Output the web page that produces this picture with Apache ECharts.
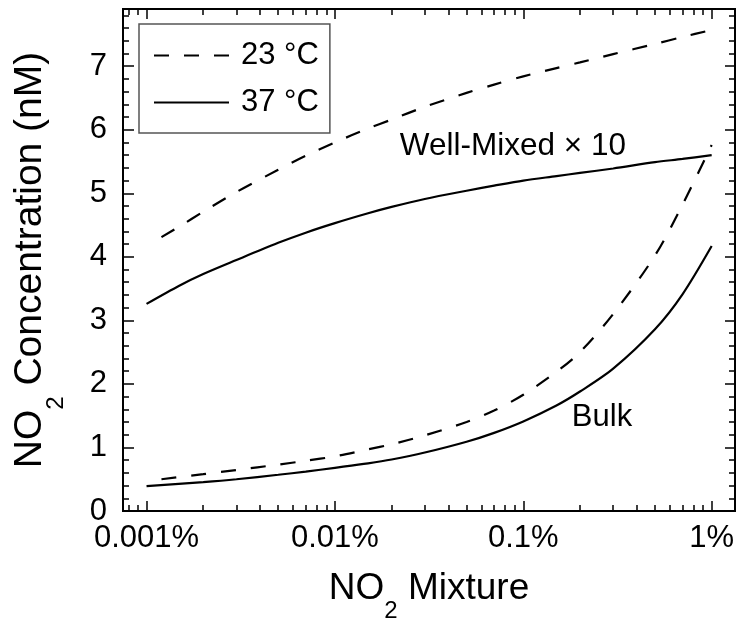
<!DOCTYPE html>
<html>
<head>
<meta charset="utf-8">
<script src="https://cdn.jsdelivr.net/npm/echarts@6/dist/echarts.min.js"></script>
<style>
html,body{margin:0;padding:0;background:#fff;}
#chart{width:744px;height:621px;}
</style>
</head>
<body>
<div id="chart"></div>
<script>
// ---- data (NO2 mixture in %, concentration in nM) ----
const seriesNames = ['23 °C', '37 °C'];

const wellMixed23X = [0.0012, 0.0015, 0.002, 0.003, 0.005, 0.007, 0.01, 0.015, 0.02, 0.03, 0.05, 0.07, 0.1, 0.15, 0.2, 0.3, 0.5, 0.7, 1.0];
const wellMixed23Y = [4.31, 4.48, 4.71, 5.02, 5.37, 5.59, 5.80, 6.02, 6.16, 6.36, 6.58, 6.71, 6.84, 6.97, 7.06, 7.19, 7.35, 7.46, 7.57];

const wellMixed37X = [0.001, 0.0015, 0.002, 0.003, 0.005, 0.007, 0.01, 0.015, 0.02, 0.03, 0.05, 0.07, 0.1, 0.15, 0.2, 0.3, 0.5, 0.7, 1.0];
const wellMixed37Y = [3.26, 3.55, 3.73, 3.95, 4.22, 4.38, 4.53, 4.685, 4.785, 4.91, 5.04, 5.12, 5.20, 5.27, 5.32, 5.39, 5.49, 5.54, 5.60];

const bulk23X = [0.0012, 0.002, 0.003, 0.005, 0.007, 0.01, 0.015, 0.02, 0.03, 0.05, 0.07, 0.1, 0.15, 0.2, 0.3, 0.5, 0.7, 1.0];
const bulk23Y = [0.50, 0.58, 0.645, 0.73, 0.79, 0.86, 0.97, 1.05, 1.19, 1.40, 1.58, 1.83, 2.19, 2.50, 3.10, 4.02, 4.82, 5.76];

const bulk37X = [0.001, 0.002, 0.003, 0.005, 0.007, 0.01, 0.015, 0.02, 0.03, 0.05, 0.07, 0.1, 0.15, 0.2, 0.3, 0.5, 0.7, 1.0];
const bulk37Y = [0.39, 0.455, 0.50, 0.57, 0.62, 0.68, 0.75, 0.81, 0.92, 1.09, 1.23, 1.41, 1.66, 1.88, 2.24, 2.86, 3.41, 4.17];

// ---- ticks ----
const xMajorTicks = [0.001, 0.01, 0.1, 1];
const xTickLabels = ['0.001%', '0.01%', '0.1%', '1%'];
const xMinorTicks = [0.0008, 0.0009,
  0.002, 0.003, 0.004, 0.005, 0.006, 0.007, 0.008, 0.009,
  0.02, 0.03, 0.04, 0.05, 0.06, 0.07, 0.08, 0.09,
  0.2, 0.3, 0.4, 0.5, 0.6, 0.7, 0.8, 0.9];
const yMajorTicks = [0, 1, 2, 3, 4, 5, 6, 7];
const yTickLabels = ['0', '1', '2', '3', '4', '5', '6', '7'];
const yMinorTicks = [0.2, 0.4, 0.6, 0.8, 1.2, 1.4, 1.6, 1.8, 2.2, 2.4, 2.6, 2.8,
  3.2, 3.4, 3.6, 3.8, 4.2, 4.4, 4.6, 4.8, 5.2, 5.4, 5.6, 5.8, 6.2, 6.4, 6.6, 6.8, 7.2, 7.4, 7.6, 7.8];

// ---- annotations ----
const annotTexts = ['Well-Mixed × 10', 'Bulk'];
const annotX = [0.0221, 0.181];
const annotY = [5.74, 1.465];

const FONT = '"Liberation Sans", Arial, Helvetica, sans-serif';
const X_MIN = 0.00075, X_MAX = 1.33, Y_MIN = 0, Y_MAX = 7.9;

function pairs(xs, ys) { return xs.map((x, i) => [x, ys[i]]); }

function xAx(pos, ticks, len, labels, withName) {
  const ax = {
    type: 'log', logBase: 10, min: X_MIN, max: X_MAX, position: pos,
    gridIndex: 0,
    axisLine: { show: true, onZero: false, lineStyle: { color: '#000', width: 2 } },
    axisTick: { show: true, inside: true, length: len, customValues: ticks, lineStyle: { color: '#000', width: 1.5 } },
    axisLabel: labels ? {
      show: true, customValues: xMajorTicks, fontSize: 31, color: '#000', fontFamily: FONT, margin: 12,
      formatter: function (v) {
        const i = xMajorTicks.findIndex(t => Math.abs(Math.log10(t) - Math.log10(v)) < 1e-6);
        return i >= 0 ? xTickLabels[i] : '';
      }
    } : { show: false },
    splitLine: { show: false },
    minorTick: { show: false }
  };
  if (withName) {
    ax.name = '{a|NO}{s|2}{a| Mixture}';
    ax.nameLocation = 'middle';
    ax.nameGap = 44;
    ax.nameTextStyle = {
      fontSize: 37, color: '#000', fontFamily: FONT,
      rich: { a: { fontSize: 37, fontFamily: FONT, color: '#000' }, s: { fontSize: 24, fontFamily: FONT, color: '#000', padding: [44, 0, 0, 0] } }
    };
  }
  return ax;
}

function yAx(pos, ticks, len, labels, withName) {
  const ax = {
    type: 'value', min: Y_MIN, max: Y_MAX, position: pos,
    gridIndex: 0,
    axisLine: { show: true, onZero: false, lineStyle: { color: '#000', width: 2 } },
    axisTick: { show: true, inside: true, length: len, customValues: ticks, lineStyle: { color: '#000', width: 1.5 } },
    axisLabel: labels ? {
      show: true, customValues: yMajorTicks, fontSize: 31, color: '#000', fontFamily: FONT, margin: 16,
      formatter: function (v) { const i = yMajorTicks.indexOf(Math.round(v)); return i >= 0 ? yTickLabels[i] : ''; }
    } : { show: false },
    splitLine: { show: false },
    minorTick: { show: false }
  };
  if (withName) {
    ax.name = '{a|NO}{s|2}{a| Concentration (nM)}';
    ax.nameLocation = 'middle';
    ax.nameGap = 54.5;
    ax.nameRotate = 90;
    ax.nameTextStyle = {
      fontSize: 39, color: '#000', fontFamily: FONT,
      rich: { a: { fontSize: 39, fontFamily: FONT, color: '#000' }, s: { fontSize: 24, fontFamily: FONT, color: '#000', padding: [53, 0, 0, 0] } }
    };
  }
  return ax;
}

const dashStyle = { color: '#000', width: 2.2, type: [15, 15] };
const solidStyle = { color: '#000', width: 2.2, type: 'solid' };

const chart = echarts.init(document.getElementById('chart'), null, { renderer: 'canvas' });
chart.setOption({
  animation: false,
  backgroundColor: '#fff',
  textStyle: { fontFamily: FONT, color: '#000' },
  grid: { left: 123, right: 9, top: 9, bottom: 110, containLabel: false, outerBoundsMode: 'none' },
  xAxis: [
    xAx('bottom', xMajorTicks, 10, true, true),
    xAx('bottom', xMinorTicks, 6, false, false),
    xAx('top', xMajorTicks, 10, false, false),
    xAx('top', xMinorTicks, 6, false, false)
  ],
  yAxis: [
    yAx('left', yMajorTicks, 11, true, true),
    yAx('left', yMinorTicks, 6, false, false),
    yAx('right', yMajorTicks, 10, false, false),
    yAx('right', yMinorTicks, 6, false, false)
  ],
  legend: {
    show: true,
    data: seriesNames,
    orient: 'vertical',
    left: 139, top: 24,
    padding: [16, 11, 15, 14],
    itemWidth: 75, itemHeight: 30, itemGap: 16,
    backgroundColor: '#fff',
    borderColor: '#555', borderWidth: 1.5,
    selectedMode: false,
    itemStyle: { color: 'rgba(0,0,0,0)', borderWidth: 0 },
    textStyle: { fontSize: 31, color: '#000', fontFamily: FONT, padding: [0, 0, 0, 7] }
  },
  series: [
    { name: seriesNames[0], type: 'line', data: pairs(wellMixed23X, wellMixed23Y), symbol: 'none', smooth: 0.3, lineStyle: dashStyle, itemStyle: { color: '#000' } },
    { name: seriesNames[1], type: 'line', data: pairs(wellMixed37X, wellMixed37Y), symbol: 'none', smooth: 0.3, lineStyle: solidStyle, itemStyle: { color: '#000' },
      markPoint: {
        symbol: 'circle', symbolSize: 0,
        label: { show: true, position: 'right', distance: 0, fontSize: 31.5, color: '#000', fontFamily: FONT, formatter: p => p.name },
        data: [{ name: annotTexts[0], coord: [annotX[0], annotY[0]] }]
      } },
    { name: seriesNames[0], type: 'line', data: pairs(bulk23X, bulk23Y), symbol: 'none', smooth: 0.3, lineStyle: dashStyle, itemStyle: { color: '#000' } },
    { name: seriesNames[1], type: 'line', data: pairs(bulk37X, bulk37Y), symbol: 'none', smooth: 0.3, lineStyle: solidStyle, itemStyle: { color: '#000' },
      markPoint: {
        symbol: 'circle', symbolSize: 0,
        label: { show: true, position: 'right', distance: 0, fontSize: 31, color: '#000', fontFamily: FONT, formatter: p => p.name },
        data: [{ name: annotTexts[1], coord: [annotX[1], annotY[1]] }]
      } }
  ]
});
</script>
</body>
</html>
